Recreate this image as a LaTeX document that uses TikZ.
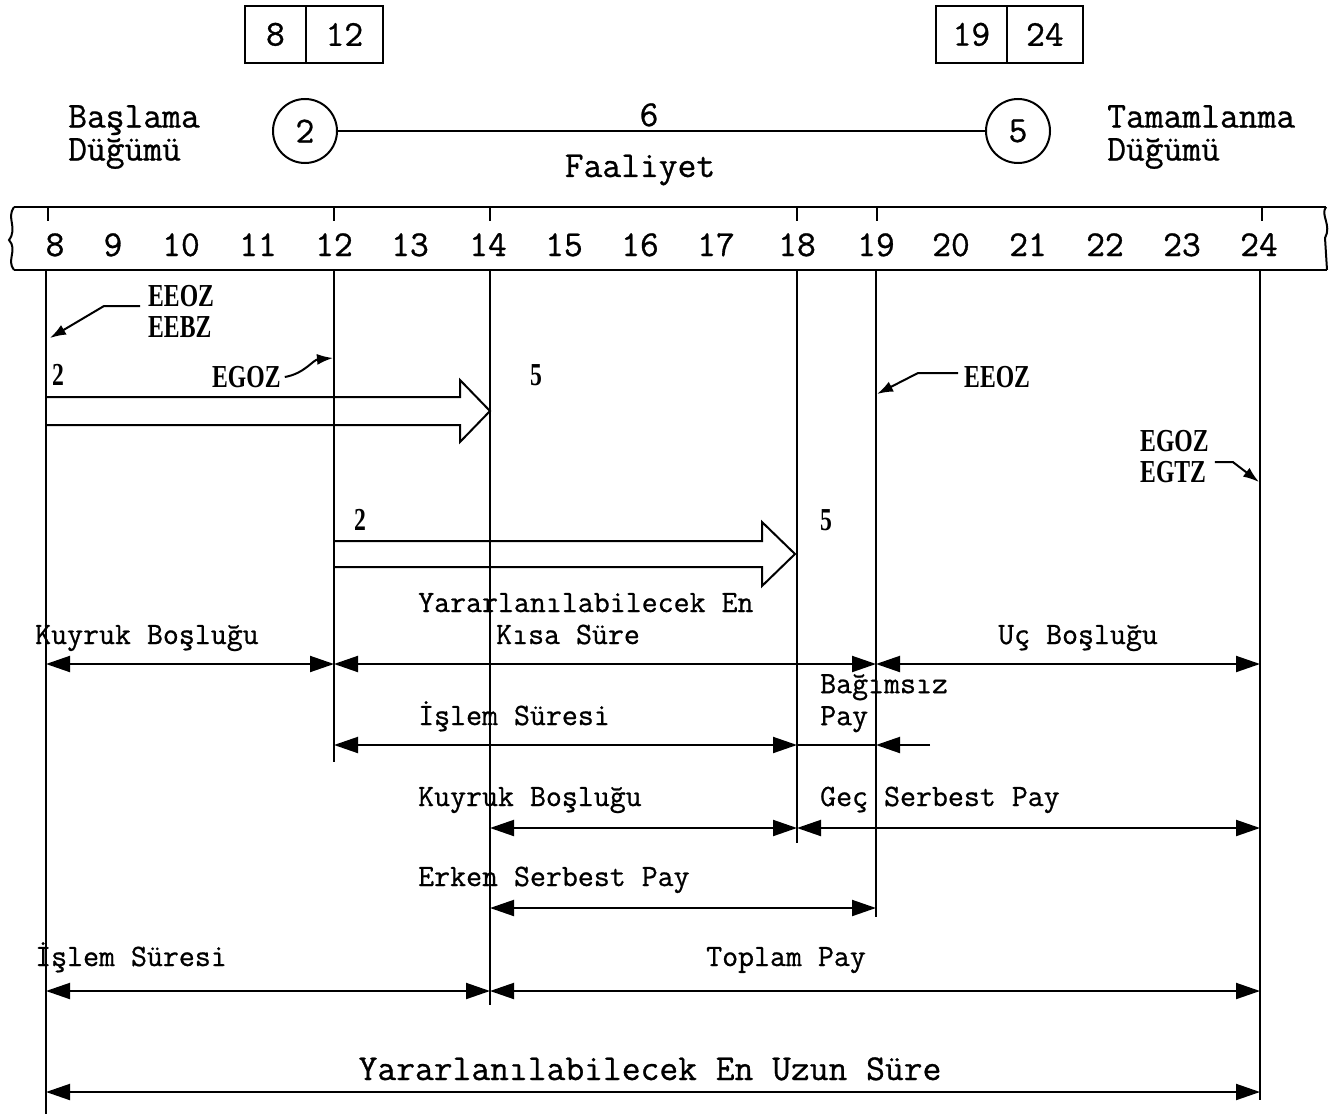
\documentclass[tikz,border=0pt]{standalone}
\usepackage{fontspec}
\setmonofont[FakeBold=0.8]{Latin Modern Mono}
\newfontfamily\widemono[FakeBold=0.8]{Latin Modern Mono}
\newfontfamily\tagfont[FakeStretch=0.74]{Liberation Serif}
\usetikzlibrary{arrows.meta,positioning,calc}
\tikzset{lbl/.style={font=\ttfamily\fontsize{31}{32}\selectfont,inner sep=0pt,anchor=base west},wlbl/.style={font=\widemono\fontsize{36.5}{33}\selectfont,inner sep=0pt},tagtxt/.style={font=\tagfont\bfseries\fontsize{32}{31}\selectfont,inner sep=0pt,anchor=west},cell/.style={draw,line width=1.8pt,minimum height=57pt,inner sep=0pt,anchor=north west,font=\widemono\fontsize{36.5}{38}\selectfont},evt/.style={draw,circle,line width=2pt,minimum size=64pt,inner sep=0pt,font=\widemono\fontsize{36.5}{38}\selectfont},vline/.style={line width=1.8pt},dim/.style={{Triangle[length=24pt,width=16pt]}-{Triangle[length=24pt,width=16pt]},line width=2pt},onehead/.style={-{Triangle[length=24pt,width=16pt]},line width=2pt},ptr/.style={-{Latex[length=16pt,width=11pt]},line width=2pt},bigarr/.style={line width=2pt,line join=miter}}

\begin{document}
\begin{tikzpicture}[x=1pt,y=-1pt]
\useasboundingbox (0,0) rectangle (1335,1118);

% faaliyet ve dugumler
\node[cell,minimum width=61pt] (c8) at (244,5) {8};
\node[cell,minimum width=77pt] (c12) at (305,5) {12};
\node[cell,minimum width=71pt] (c19) at (935,5) {19};
\node[cell,minimum width=76pt] (c24) at (1006,5) {24};
\node[evt] (n2) at (305,131) {2};
\node[evt] (n5) at (1018,131) {5};
\draw[line width=2pt] (n2) -- (n5);
\node[wlbl,anchor=base] (dur) at (649,126) {6};
\node[wlbl,anchor=base] (faal) at (640,177) {Faaliyet};
\node[wlbl,align=left,anchor=north west] (basla) at (68,105) {Başlama\\Düğümü};
\node[wlbl,align=left,anchor=north west] (tamam) at (1107,105) {Tamamlanma\\Düğümü};

% zaman ekseni
\draw[line width=2.6pt] (14,207) -- (1326,207) (14,270) -- (1327,270);
\draw[line width=2pt] (14,207) .. controls (6,218) and (18,228) .. (9,240) .. controls (18,250) and (6,260) .. (14,270);
\draw[line width=2pt] (1326,207) .. controls (1320,215) and (1332,225) .. (1325,238) -- (1327,270);
\foreach \x in {48,334,490,797,877,1262} \draw[vline] (\x,207) -- (\x,221);
\foreach \v/\x in {8/55,9/113,10/181,11/258,12/334,13/410,14/488,15/564,16/640,17/716,18/797,19/876,20/951,21/1028,22/1105,23/1182,24/1259}
  \node[wlbl,anchor=base] (ax\v) at (\x,256) {\v};
\foreach \n/\x/\b in {8/46/1114,12/334/762,14/490/1005,18/797/843,19/876/917,24/1260/1100}{
  \coordinate (t\n) at (\x,270);
  \coordinate (b\n) at (\x,\b);
  \draw[vline] (t\n) -- (b\n);
}

% faaliyet oklari
\draw[bigarr] (46,397) -- (460,397) -- (460,380) -- (490,411) -- (460,442) -- (460,425) -- (46,425);
\draw[bigarr] (334,541) -- (762,541) -- (762,522) -- (795,554) -- (762,586) -- (762,567) -- (334,567);
\node[tagtxt] (d2a) at (52,375) {2};
\node[tagtxt] (d5a) at (530,375) {5};
\node[tagtxt] (d2b) at (354,520) {2};
\node[tagtxt] (d5b) at (820,520) {5};

% zaman isaretleri
\node[tagtxt,align=left,anchor=north west] (ee) at (148,285) {EEOZ\\EEBZ};
\node[tagtxt] (egoz1) at (212,377) {EGOZ};
\node[tagtxt] (eeoz2) at (964,377) {EEOZ};
\node[tagtxt,align=left,anchor=north west] (eg) at (1140,430) {EGOZ\\EGTZ};
\coordinate (p1) at (50,338);
\coordinate (p2) at (333,358);
\coordinate (p3) at (877,394);
\coordinate (p4) at (1259,482);
\draw[ptr] ([xshift=-8pt,yshift=-21pt]ee.north west) -- ++(-36,0) -- (p1);
\draw[ptr] ([xshift=4pt]egoz1.east) to[out=10,in=185] (p2);
\draw[ptr] ([xshift=-6pt,yshift=4pt]eeoz2.west) -- ++(-40,0) -- (p3);
\draw[ptr] ([xshift=6pt,yshift=-32pt]eg.north east) -- ++(18,0) -- (p4);

% sureler ve paylar
\coordinate (r1) at (0,664);
\coordinate (r2) at (0,745);
\coordinate (r3) at (0,828);
\coordinate (r4) at (0,908);
\coordinate (r5) at (0,991);
\coordinate (r6) at (0,1092);
\coordinate (bp) at (930,745);
\draw[dim] (t8|-r1) -- (t12|-r1);
\draw[dim] (t12|-r1) -- (t19|-r1);
\draw[dim] (t19|-r1) -- (t24|-r1);
\draw[dim] (t12|-r2) -- (t18|-r2);
\draw[line width=2pt] (t18|-r2) -- (t19|-r2);
\draw[onehead] (bp) -- (t19|-r2);
\draw[dim] (t14|-r3) -- (t18|-r3);
\draw[dim] (t18|-r3) -- (t24|-r3);
\draw[dim] (t14|-r4) -- (t19|-r4);
\draw[dim] (t8|-r5) -- (t14|-r5);
\draw[dim] (t14|-r5) -- (t24|-r5);
\draw[dim] (t8|-r6) -- (t24|-r6);

\node[lbl] (yek1) at (418,612) {Yararlanılabilecek En};
\node[lbl] (yek2) at (496,644) {Kısa Süre};
\node[lbl] (kuy1) at (35,644) {Kuyruk Boşluğu};
\node[lbl] (ucb) at (998,644) {Uç Boşluğu};
\node[lbl,align=left,anchor=north west,font=\ttfamily\fontsize{31}{32}\selectfont] (bag) at (820,674) {Bağımsız\\Pay};
\node[lbl] (isl1) at (418,725) {İşlem Süresi};
\node[lbl] (kuy2) at (418,806) {Kuyruk Boşluğu};
\node[lbl] (gec) at (820,806) {Geç Serbest Pay};
\node[lbl] (erk) at (418,886) {Erken Serbest Pay};
\node[lbl] (isl2) at (35,966) {İşlem Süresi};
\node[lbl] (topl) at (706,966) {Toplam Pay};
\node[wlbl,anchor=base] (yeu) at (650,1080) {Yararlanılabilecek En Uzun Süre};
\end{tikzpicture}
\end{document}
